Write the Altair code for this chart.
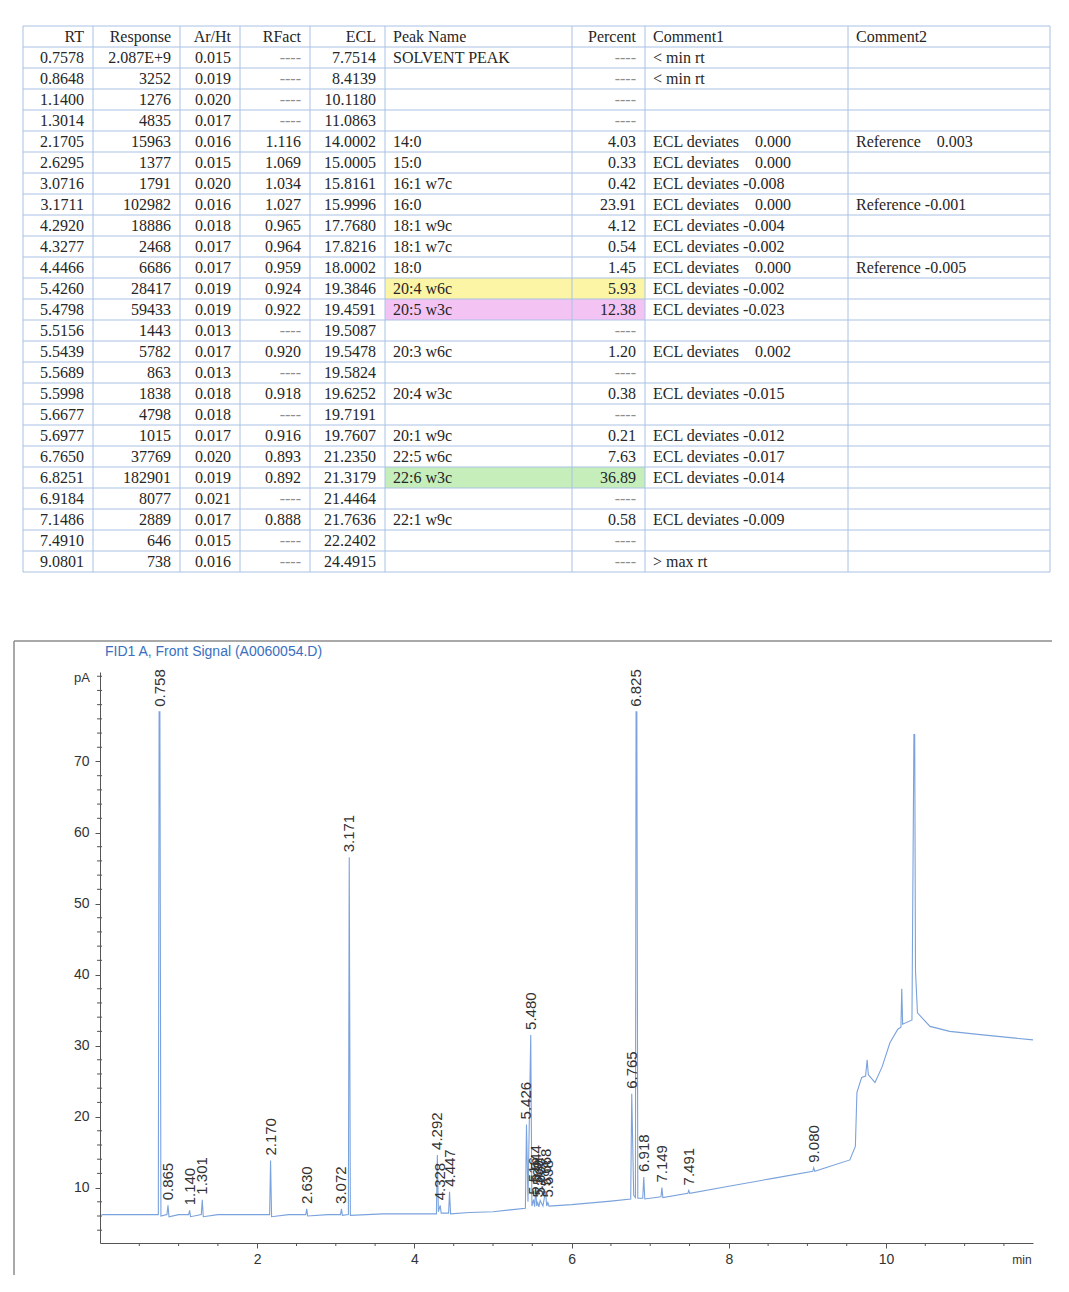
import altair as alt
import pandas as pd

NB = "\u00a0"

# ---------------- table data ----------------
HEADERS = ["RT", "Response", "Ar/Ht", "RFact", "ECL", "Peak Name", "Percent", "Comment1", "Comment2"]
RT = ["0.7578", "0.8648", "1.1400", "1.3014", "2.1705", "2.6295", "3.0716", "3.1711", "4.2920",
      "4.3277", "4.4466", "5.4260", "5.4798", "5.5156", "5.5439", "5.5689", "5.5998", "5.6677",
      "5.6977", "6.7650", "6.8251", "6.9184", "7.1486", "7.4910", "9.0801"]
RESPONSE = ["2.087E+9", "3252", "1276", "4835", "15963", "1377", "1791", "102982", "18886", "2468",
            "6686", "28417", "59433", "1443", "5782", "863", "1838", "4798", "1015", "37769",
            "182901", "8077", "2889", "646", "738"]
AR_HT = ["0.015", "0.019", "0.020", "0.017", "0.016", "0.015", "0.020", "0.016", "0.018", "0.017",
         "0.017", "0.019", "0.019", "0.013", "0.017", "0.013", "0.018", "0.018", "0.017", "0.020",
         "0.019", "0.021", "0.017", "0.015", "0.016"]
RFACT = ["----", "----", "----", "----", "1.116", "1.069", "1.034", "1.027", "0.965", "0.964",
         "0.959", "0.924", "0.922", "----", "0.920", "----", "0.918", "----", "0.916", "0.893",
         "0.892", "----", "0.888", "----", "----"]
ECL = ["7.7514", "8.4139", "10.1180", "11.0863", "14.0002", "15.0005", "15.8161", "15.9996",
       "17.7680", "17.8216", "18.0002", "19.3846", "19.4591", "19.5087", "19.5478", "19.5824",
       "19.6252", "19.7191", "19.7607", "21.2350", "21.3179", "21.4464", "21.7636", "22.2402",
       "24.4915"]
PEAK_NAME = ["SOLVENT PEAK", "", "", "", "14:0", "15:0", "16:1 w7c", "16:0", "18:1 w9c", "18:1 w7c",
             "18:0", "20:4 w6c", "20:5 w3c", "", "20:3 w6c", "", "20:4 w3c", "", "20:1 w9c",
             "22:5 w6c", "22:6 w3c", "", "22:1 w9c", "", ""]
PERCENT = ["----", "----", "----", "----", "4.03", "0.33", "0.42", "23.91", "4.12", "0.54", "1.45",
           "5.93", "12.38", "----", "1.20", "----", "0.38", "----", "0.21", "7.63", "36.89", "----",
           "0.58", "----", "----"]
POS = NB * 3 + " "
COMMENT1 = ["< min rt", "< min rt", "", "",
            "ECL deviates" + POS + "0.000", "ECL deviates" + POS + "0.000", "ECL deviates -0.008",
            "ECL deviates" + POS + "0.000", "ECL deviates -0.004", "ECL deviates -0.002",
            "ECL deviates" + POS + "0.000", "ECL deviates -0.002", "ECL deviates -0.023", "",
            "ECL deviates" + POS + "0.002", "", "ECL deviates -0.015", "", "ECL deviates -0.012",
            "ECL deviates -0.017", "ECL deviates -0.014", "", "ECL deviates -0.009", "", "> max rt"]
COMMENT2 = ["", "", "", "", "Reference" + POS + "0.003", "", "", "Reference -0.001", "", "",
            "Reference -0.005", "", "", "", "", "", "", "", "", "", "", "", "", "", ""]

HIGHLIGHT_NAMES = ["20:4 w6c", "20:5 w3c", "22:6 w3c"]
HIGHLIGHT_COLORS = ["#fcf5a6", "#f3c4f3", "#c5eebb"]

# ---------------- chromatogram data ----------------
TRACE_T = [0.02, 0.30, 0.60,
           0.742, 0.752, 0.762, 0.775,
           0.852, 0.865, 0.878, 1.00,
           1.128, 1.140, 1.152,
           1.289, 1.301, 1.314, 1.50, 1.80,
           2.158, 2.170, 2.183, 2.40,
           2.618, 2.630, 2.642, 2.90,
           3.060, 3.072, 3.084,
           3.160, 3.171, 3.185, 3.60, 4.00,
           4.280, 4.292, 4.305, 4.328, 4.341,
           4.435, 4.447, 4.460, 4.70, 5.00, 5.25,
           5.412, 5.426, 5.445, 5.480, 5.495,
           5.516, 5.530, 5.544, 5.556, 5.569, 5.584,
           5.600, 5.635, 5.668, 5.683, 5.698, 5.712,
           6.00, 6.50,
           6.752, 6.765, 6.790, 6.812, 6.820, 6.830, 6.842,
           6.905, 6.918, 6.931,
           7.137, 7.149, 7.161,
           7.479, 7.491, 7.503,
           8.00, 8.56,
           9.068, 9.080, 9.093,
           9.54, 9.61, 9.63, 9.69, 9.74, 9.76, 9.775, 9.86, 9.95, 10.05, 10.15, 10.19,
           10.20, 10.212, 10.33, 10.355, 10.365, 10.375, 10.40, 10.56, 10.81, 11.23, 11.87]
TRACE_Y = [6.2, 6.2, 6.2,
           6.2, 77.0, 77.0, 6.0,
           6.2, 7.5, 5.9, 6.2,
           6.2, 6.8, 5.9,
           6.2, 8.3, 5.9, 6.2, 6.2,
           6.2, 13.8, 5.9, 6.2,
           6.2, 7.0, 6.0, 6.2,
           6.2, 7.0, 6.1,
           6.2, 56.5, 6.1, 6.3, 6.3,
           6.3, 14.6, 6.6, 7.5, 6.4,
           6.4, 9.4, 6.3, 6.5, 6.6, 6.9,
           7.1, 18.9, 8.0, 31.5, 7.4,
           8.3, 7.3, 10.0, 7.4, 7.9, 7.3,
           8.2, 7.4, 9.5, 7.4, 7.9, 7.4,
           7.6, 8.1,
           8.4, 23.2, 8.9, 8.6, 77.0, 77.0, 8.5,
           8.5, 11.5, 8.4,
           8.7, 10.0, 8.6,
           9.2, 9.6, 9.2,
           10.2, 11.3,
           12.3, 12.8, 12.3,
           13.9, 15.8, 23.4, 25.5, 25.7, 28.0, 25.9, 24.8, 27.0, 30.4, 32.3, 32.6,
           38.0, 33.0, 33.6, 73.8, 73.8, 40.5, 34.6, 32.7, 32.0, 31.5, 30.8]

PEAK_RT = [0.758, 0.865, 1.140, 1.301, 2.170, 2.630, 3.072, 3.171, 4.292, 4.328, 4.447,
           5.426, 5.480, 5.516, 5.544, 5.569, 5.600, 5.668, 5.698, 6.765, 6.825, 6.918,
           7.149, 7.491, 9.080]
PEAK_TOP = [77.0, 7.5, 6.8, 8.3, 13.8, 7.0, 7.0, 56.5, 14.6, 7.5, 9.4,
            18.9, 31.5, 8.3, 10.0, 7.9, 8.2, 9.5, 7.9, 23.2, 77.0, 11.5,
            10.0, 9.6, 12.8]
PEAK_LABEL = ["0.758", "0.865", "1.140", "1.301", "2.170", "2.630", "3.072", "3.171", "4.292",
              "4.328", "4.447", "5.426", "5.480", "5.516", "5.544", "5.569", "5.600", "5.668",
              "5.698", "6.765", "6.825", "6.918", "7.149", "7.491", "9.080"]

X_TICKS = [2, 4, 6, 8, 10]
X_MINOR = [0.5, 1, 1.5, 2.5, 3, 3.5, 4.5, 5, 5.5, 6.5, 7, 7.5, 8.5, 9, 9.5, 10.5, 11, 11.5]
Y_TICKS = [10, 20, 30, 40, 50, 60, 70]
Y_MINOR = [4, 6, 8, 12, 14, 16, 18, 22, 24, 26, 28, 32, 34, 36, 38, 42, 44, 46, 48, 52, 54, 56,
           58, 62, 64, 66, 68, 72, 74, 76, 78, 80, 82]

TITLE = "FID1 A, Front Signal (A0060054.D)"

# ---------------- layout / style ----------------
COL_EDGES = [0, 70, 157, 217, 287, 362, 549, 622, 825, 1027]
COL_ALIGN = ["right", "right", "right", "right", "right", "left", "right", "left", "left"]
GRID_COLOR = "#a9c2e4"
SERIF = "Liberation Serif"
SANS = "Liberation Sans"

TX = alt.Scale(domain=[0, 1027], range=[-77, 950], nice=False, zero=False)
TY = alt.Scale(domain=[0, 26], range=[0, 546], nice=False, zero=False)

columns = [RT, RESPONSE, AR_HT, RFACT, ECL, PEAK_NAME, PERCENT, COMMENT1, COMMENT2]
recs = []
for c, h in enumerate(HEADERS):
    recs.append({"r": 0, "c": c, "text": h})
for i in range(len(RT)):
    for c, col in enumerate(columns):
        if col[i]:
            recs.append({"r": i + 1, "c": c, "text": col[i]})
tdf = pd.DataFrame(recs)
tdf["ym"] = tdf["r"] + 0.5
tdf["align"] = [COL_ALIGN[c] for c in tdf["c"]]
tdf["xa"] = [COL_EDGES[c + 1] - 9 if COL_ALIGN[c] == "right" else COL_EDGES[c] + 8 for c in tdf["c"]]

hl_recs = []
for name, colr in zip(HIGHLIGHT_NAMES, HIGHLIGHT_COLORS):
    r = PEAK_NAME.index(name) + 1
    hl_recs.append({"x0": COL_EDGES[5], "x1": COL_EDGES[7], "y0": r, "y1": r + 1, "col": colr})
hl_df = pd.DataFrame(hl_recs)

h_df = pd.DataFrame({"y": list(range(len(RT) + 2)), "x0": 0, "x1": COL_EDGES[-1]})
v_df = pd.DataFrame({"x": COL_EDGES, "y0": 0, "y1": len(RT) + 1})

hl = alt.Chart(hl_df).mark_rect().encode(
    x=alt.X("x0:Q", scale=TX, axis=None), x2="x1:Q",
    y=alt.Y("y0:Q", scale=TY, axis=None), y2="y1:Q",
    color=alt.Color("col:N", scale=None))
hr = alt.Chart(h_df).mark_rule(color=GRID_COLOR, strokeWidth=1).encode(
    x=alt.X("x0:Q", scale=TX, axis=None), x2="x1:Q",
    y=alt.Y("y:Q", scale=TY, axis=None))
vr = alt.Chart(v_df).mark_rule(color=GRID_COLOR, strokeWidth=1).encode(
    x=alt.X("x:Q", scale=TX, axis=None),
    y=alt.Y("y0:Q", scale=TY, axis=None), y2="y1:Q")

txt_color = alt.condition(alt.datum.text == "----", alt.value("#8e8e8e"), alt.value("#262626"))
t_right = alt.Chart(tdf[tdf["align"] == "right"]).mark_text(
    align="right", baseline="middle", font=SERIF, fontSize=16).encode(
    x=alt.X("xa:Q", scale=TX, axis=None), y=alt.Y("ym:Q", scale=TY, axis=None),
    text="text:N", color=txt_color)
t_left = alt.Chart(tdf[tdf["align"] == "left"]).mark_text(
    align="left", baseline="middle", font=SERIF, fontSize=16).encode(
    x=alt.X("xa:Q", scale=TX, axis=None), y=alt.Y("ym:Q", scale=TY, axis=None),
    text="text:N", color=alt.value("#262626"))

table = alt.layer(hl, hr, vr, t_right, t_left)

# ---------------- chromatogram ----------------
CX = alt.Scale(domain=[0, 11.87], nice=False, zero=False)
CY = alt.Scale(domain=[2.2, 82.6], range=[1217, 646], nice=False, zero=False)
AX_COMMON = dict(title=None, grid=False, tickSize=5, labelFont=SANS, labelFontSize=14,
                 labelColor="#333333", domainColor="#555555", tickColor="#555555")
XAX = alt.Axis(values=X_TICKS, format="d", labelPadding=4, **AX_COMMON)
YAX = alt.Axis(values=Y_TICKS, format="d", labelPadding=6, **AX_COMMON)

trace_df = pd.DataFrame({"t": TRACE_T, "s": TRACE_Y})
peak_df = pd.DataFrame({"t": PEAK_RT, "s": PEAK_TOP, "lab": PEAK_LABEL})

line = alt.Chart(trace_df).mark_line(color="#7aa2dc", strokeWidth=1.1).encode(
    x=alt.X("t:Q", scale=CX, axis=XAX), y=alt.Y("s:Q", scale=CY, axis=YAX))
labels = alt.Chart(peak_df).mark_text(
    angle=270, align="left", baseline="middle", dx=5, font=SANS, fontSize=15,
    color="#333333").encode(
    x=alt.X("t:Q", scale=CX, axis=XAX), y=alt.Y("s:Q", scale=CY, axis=YAX), text="lab:N")

ymin = alt.Chart(pd.DataFrame({"s": Y_MINOR})).mark_rule(color="#555555").encode(
    y=alt.Y("s:Q", scale=CY, axis=YAX), x=alt.value(-3), x2=alt.value(2))
xmin = alt.Chart(pd.DataFrame({"t": X_MINOR})).mark_rule(color="#555555").encode(
    x=alt.X("t:Q", scale=CX, axis=XAX), y=alt.value(1217), y2=alt.value(1220))

one = pd.DataFrame({"a": [0]})
title = alt.Chart(pd.DataFrame({"txt": [TITLE]})).mark_text(
    align="left", baseline="middle", font=SANS, fontSize=14, color="#3a70bf").encode(
    x=alt.value(5), y=alt.value(626), text="txt:N")
unit_pa = alt.Chart(pd.DataFrame({"txt": ["pA"]})).mark_text(
    align="right", baseline="middle", font=SANS, fontSize=13, color="#333333").encode(
    x=alt.value(-10), y=alt.value(652), text="txt:N")
unit_min = alt.Chart(pd.DataFrame({"txt": ["min"]})).mark_text(
    align="center", baseline="middle", font=SANS, fontSize=12, color="#333333").encode(
    x=alt.value(922), y=alt.value(1234), text="txt:N")
frame_top = alt.Chart(one).mark_rule(color="#8c8c8c", strokeWidth=1.5).encode(
    x=alt.value(-86), x2=alt.value(952), y=alt.value(615))
frame_left = alt.Chart(one).mark_rule(color="#8c8c8c", strokeWidth=1.5).encode(
    x=alt.value(-86), y=alt.value(615), y2=alt.value(1249))

chrom = alt.layer(frame_top, frame_left, line, labels, ymin, xmin, title, unit_pa, unit_min)

chart = alt.layer(table, chrom).resolve_scale(
    x="independent", y="independent"
).properties(
    width=933, height=1217,
    autosize=alt.AutoSizeParams(type="none"),
    padding={"left": 92, "top": 18, "right": 28, "bottom": 40},
).configure_view(stroke=None)

chart.save("out.html", embed_options={"renderer": "svg", "actions": False})
